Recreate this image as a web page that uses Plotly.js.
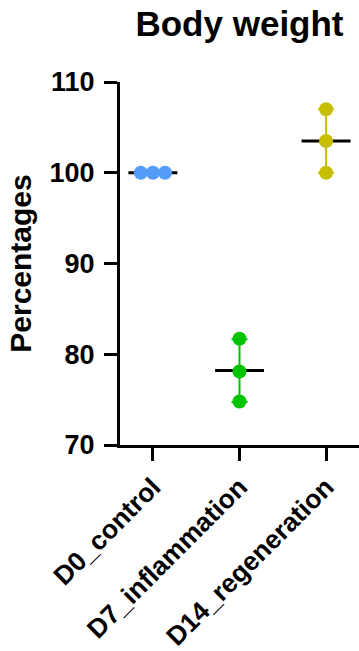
<!DOCTYPE html>
<html>
<head>
<meta charset="utf-8">
<script src="https://cdn.plot.ly/plotly-3.0.1.min.js"></script>
<style>html,body{margin:0;padding:0;background:#fff;}#chart{width:359px;height:651px;}</style>
</head>
<body>
<div id="chart"></div>
<script>
// ---- data ----
const categories = ['D0_control', 'D7_inflammation', 'D14_regeneration'];
const d0Values = [100, 100, 100];
const d7Values = [81.7, 78.1, 74.8];
const d14Values = [107.0, 103.5, 100.0];
const groupMeans = [100, 78.2, 103.5];
const groupSD = [0, 3.45, 3.5];
const groupColors = ['#559CF8', '#00C400', '#C8BE00'];
const yTickVals = [70, 80, 90, 100, 110];

// ---- style constants ----
const FONT = 'Liberation Sans, Arial, Helvetica, sans-serif';
const DODGE = 0.14; // horizontal spread for identical values (category units)

const groups = [d0Values, d7Values, d14Values];
const traces = [];

groups.forEach((vals, gi) => {
  // mean line
  traces.push({
    type: 'scatter', mode: 'markers',
    x: [gi], y: [groupMeans[gi]],
    marker: {symbol: 'line-ew', size: 35, color: '#000', line: {color: '#000', width: 3}},
    hoverinfo: 'skip', showlegend: false
  });
  // SD error bar
  traces.push({
    type: 'scatter', mode: 'markers',
    x: [gi], y: [groupMeans[gi]],
    marker: {size: 0.1, color: groupColors[gi]},
    error_y: {type: 'data', array: [groupSD[gi]], visible: groupSD[gi] > 0,
              color: groupColors[gi], thickness: 2, width: 8},
    hoverinfo: 'skip', showlegend: false
  });
  // individual points, with dodge for identical values
  const xs = vals.map((v, i) => {
    const same = vals.filter(w => w === v).length;
    const k = vals.slice(0, i).filter(w => w === v).length;
    return gi + (k - (same - 1) / 2) * DODGE;
  });
  traces.push({
    type: 'scatter', mode: 'markers',
    x: xs, y: vals,
    name: categories[gi],
    marker: {size: 14, color: groupColors[gi]},
    showlegend: false
  });
});

const layout = {
  width: 359, height: 651,
  margin: {l: 120, r: 0, t: 82, b: 206, pad: 0},
  paper_bgcolor: '#fff', plot_bgcolor: '#fff',
  font: {family: FONT, color: '#000'},
  title: {
    text: '<b>Body weight</b>',
    font: {family: FONT, size: 35, color: '#000'},
    x: 0.5, xref: 'paper', xanchor: 'center',
    y: 1 - 24 / 651, yref: 'container', yanchor: 'middle'
  },
  xaxis: {
    range: [-0.38, 2.38],
    tickmode: 'array', tickvals: [0, 1, 2], ticktext: categories.map(c => '<b>' + c + '</b>'),
    tickangle: -45,
    tickfont: {family: FONT, size: 26.5, color: '#000'},
    ticks: 'outside', ticklen: 13, tickwidth: 3, tickcolor: '#000',
    showline: true, linewidth: 3, linecolor: '#000',
    showgrid: false, zeroline: false, fixedrange: true
  },
  yaxis: {
    range: [70, 110],
    tickmode: 'array', tickvals: yTickVals, ticktext: yTickVals.map(v => '<b>' + v + '</b>'),
    tickfont: {family: FONT, size: 27, color: '#000'},
    ticklabelstandoff: 4,
    ticks: 'outside', ticklen: 13, tickwidth: 3, tickcolor: '#000',
    showline: true, linewidth: 3, linecolor: '#000',
    showgrid: false, zeroline: false, fixedrange: true,
    title: {text: '<b>Percentages</b>', font: {family: FONT, size: 30, color: '#000'}, standoff: 10}
  },
  showlegend: false
};

Plotly.newPlot('chart', traces, layout, {displayModeBar: false, staticPlot: true});
</script>
</body>
</html>
